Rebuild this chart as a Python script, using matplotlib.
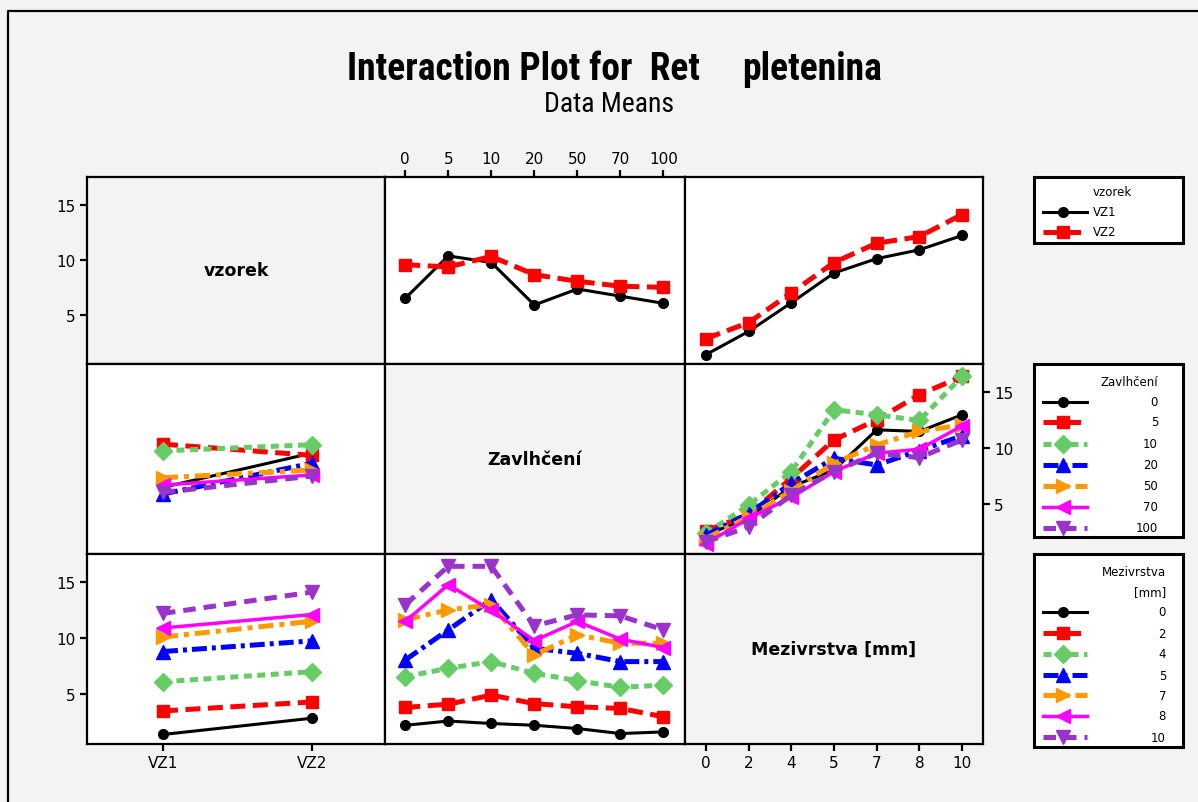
import numpy as np
import matplotlib
matplotlib.use("Agg")
import matplotlib.pyplot as plt
from matplotlib import font_manager
from matplotlib.lines import Line2D

# factor levels
vzorek_levels = ["VZ1", "VZ2"]
zavlh_levels = ["0", "5", "10", "20", "50", "70", "100"]
mezi_levels = ["0", "2", "4", "5", "7", "8", "10"]

# data means, vzorek x Zavlhčení (rows VZ1, VZ2)
vz_zav = [[6.5, 10.35, 9.75, 5.9, 7.35, 6.7, 6.05],
          [9.55, 9.35, 10.3, 8.65, 8.05, 7.6, 7.5]]
# data means, vzorek x Mezivrstva (rows VZ1, VZ2)
vz_mez = [[1.4, 3.5, 6.1, 8.8, 10.1, 10.9, 12.2],
          [2.85, 4.3, 7.0, 9.75, 11.5, 12.1, 14.1]]
# data means, Mezivrstva (rows) x Zavlhčení (cols)
mez_zav = [[2.22, 2.6, 2.38, 2.22, 1.93, 1.48, 1.63],
           [3.81, 4.1, 4.91, 4.15, 3.87, 3.72, 2.98],
           [6.56, 7.3, 7.9, 6.85, 6.2, 5.6, 5.81],
           [8.04, 10.73, 13.42, 9.09, 8.64, 7.9, 7.9],
           [11.63, 12.52, 12.97, 8.49, 10.28, 9.54, 9.54],
           [11.48, 14.76, 12.46, 9.78, 11.48, 9.9, 9.15],
           [12.97, 16.4, 16.4, 11.09, 12.07, 11.98, 10.73]]

vz_zav = np.array(vz_zav)
vz_mez = np.array(vz_mez)
mez_zav = np.array(mez_zav)

BG = "#f3f3f3"
W, H = 1198, 803

# minitab-like line styles per level
styles = [
    dict(color="black", lw=2.2, ls="-", marker="o", ms=7, dashes=None),
    dict(color="#ff0000", lw=3.6, ls="--", marker="s", ms=9, dashes=(3, 1.5)),
    dict(color="#66cc66", lw=3.6, ls="--", marker="D", ms=9, dashes=(1.6, 1.1)),
    dict(color="#0000ff", lw=3.6, ls="--", marker="^", ms=10, dashes=(3, 1, 0.8, 1)),
    dict(color="#ff9900", lw=3.6, ls="--", marker=">", ms=10, dashes=(3, 1.2, 1, 1.2)),
    dict(color="#ff00ff", lw=2.5, ls="-", marker="<", ms=10, dashes=None),
    dict(color="#9933cc", lw=3.6, ls="--", marker="v", ms=10, dashes=(2.5, 1.6)),
]


def draw_line(ax, x, y, st):
    ln, = ax.plot(x, y, color=st["color"], lw=st["lw"], ls=st["ls"],
                  marker=st["marker"], ms=st["ms"], mec=st["color"],
                  mfc=st["color"], solid_capstyle="butt")
    if st["dashes"] is not None:
        ln.set_dashes(st["dashes"])
    return ln


names = {f.name for f in font_manager.fontManager.ttflist}
title_font = "DejaVu Sans"
for cand in ["Liberation Sans Narrow", "DejaVu Sans Condensed", "Roboto Condensed"]:
    if cand in names:
        title_font = cand
        break

fig = plt.figure(figsize=(W / 100, H / 100), dpi=100, facecolor=BG, edgecolor=BG)

# outer frame: only the left and top edges show in the picture
fig.add_artist(Line2D([8 / W, 8 / W, 1.05], [-0.05, 1 - 12 / H, 1 - 12 / H],
                      transform=fig.transFigure, color="black", lw=1.6))

col_x = [87, 385, 685, 983]
row_y = [178, 365, 555, 745]
YLIM = (0.55, 17.5)


def panel(r, c):
    x0, x1 = col_x[c], col_x[c + 1]
    y0, y1 = row_y[r], row_y[r + 1]
    ax = fig.add_axes([x0 / W, 1 - y1 / H, (x1 - x0) / W, (y1 - y0) / H])
    for s in ax.spines.values():
        s.set_linewidth(1.6)
    ax.set_ylim(*YLIM)
    ax.set_xticks([])
    ax.set_yticks([])
    ax.tick_params(direction="out", length=5, width=1.6, labelsize=11, pad=3)
    return ax


xv = np.arange(len(vzorek_levels))
xz = np.arange(len(zavlh_levels))
xm = np.arange(len(mezi_levels))
yt = [5, 10, 15]

axes = {}
for r in range(3):
    for c in range(3):
        axes[(r, c)] = panel(r, c)

# diagonal label panels
diag = {0: "vzorek", 1: "Zavlhčení", 2: "Mezivrstva [mm]"}
for i, lab in diag.items():
    ax = axes[(i, i)]
    ax.set_facecolor(BG)
    ax.text(0.5, 0.5, lab, transform=ax.transAxes, ha="center", va="center",
            fontsize=12.5, fontweight="bold")

# top-left: y ticks
ax = axes[(0, 0)]
ax.set_xlim(-0.51, 1.49)
ax.set_yticks(yt)

# top-middle: vzorek over Zavlhčení
ax = axes[(0, 1)]
for i in range(len(vzorek_levels)):
    draw_line(ax, xz, vz_zav[i], styles[i])
ax.set_xlim(-0.47, 6.5)
ax.xaxis.tick_top()
ax.set_xticks(xz, zavlh_levels)

# top-right: vzorek over Mezivrstva
ax = axes[(0, 2)]
for i in range(len(vzorek_levels)):
    draw_line(ax, xm, vz_mez[i], styles[i])
ax.set_xlim(-0.49, 6.49)

# middle-left: Zavlhčení over vzorek
ax = axes[(1, 0)]
for j in range(len(zavlh_levels)):
    draw_line(ax, xv, vz_zav[:, j], styles[j])
ax.set_xlim(-0.51, 1.49)

# middle-right: Zavlhčení over Mezivrstva
ax = axes[(1, 2)]
for j in range(len(zavlh_levels)):
    draw_line(ax, xm, mez_zav[:, j], styles[j])
ax.set_xlim(-0.49, 6.49)
ax.yaxis.tick_right()
ax.set_yticks(yt)

# bottom-left: Mezivrstva over vzorek
ax = axes[(2, 0)]
for k in range(len(mezi_levels)):
    draw_line(ax, xv, vz_mez[:, k], styles[k])
ax.set_xlim(-0.51, 1.49)
ax.set_yticks(yt)
ax.set_xticks(xv, vzorek_levels)

# bottom-middle: Mezivrstva over Zavlhčení
ax = axes[(2, 1)]
for k in range(len(mezi_levels)):
    draw_line(ax, xz, mez_zav[k], styles[k])
ax.set_xlim(-0.47, 6.5)

# bottom-right: x ticks only
ax = axes[(2, 2)]
ax.set_xlim(-0.49, 6.49)
ax.set_xticks(xm, mezi_levels)

# titles
fig.text(700 / W, 1 - 70 / H, "Interaction Plot for  Ret", ha="right", va="center",
         fontsize=27, fontweight="bold", family=title_font)
fig.text(742 / W, 1 - 70 / H, "pletenina", ha="left", va="center",
         fontsize=27, fontweight="bold", family=title_font)
fig.text(609 / W, 1 - 104 / H, "Data Means", ha="center", va="center", fontsize=20,
         family=title_font)


# legends drawn as small boxes on the right
def legend_box(top, bottom, title_lines, labels, ys, label_x, label_ha, title_x, title_ys):
    ax = fig.add_axes([1034 / W, 1 - bottom / H, (1183 - 1034) / W, (bottom - top) / H])
    ax.set_xlim(1034, 1183)
    ax.set_ylim(bottom, top)
    ax.set_xticks([])
    ax.set_yticks([])
    ax.set_facecolor("white")
    for s in ax.spines.values():
        s.set_linewidth(2.2)
    for t, ty in zip(title_lines, title_ys):
        ax.text(title_x, ty, t, ha=label_ha, va="center", fontsize=8.5)
    for n, (lab, y) in enumerate(zip(labels, ys)):
        st = styles[n]
        ln = Line2D([1043, 1063, 1087], [y, y, y], color=st["color"], lw=st["lw"],
                    ls=st["ls"], marker=st["marker"], ms=st["ms"], markevery=[1],
                    mfc=st["color"], mec=st["color"])
        if st["dashes"] is not None:
            ln.set_dashes(st["dashes"])
        ax.add_line(ln)
        ax.text(label_x, y, lab, ha=label_ha, va="center", fontsize=8.5)


legend_box(178, 244, ["vzorek"], vzorek_levels, [213, 233], 1093, "left", 1093, [193])
legend_box(365, 538, ["Zavlhčení"], zavlh_levels,
           [403, 423, 445, 466, 487, 508, 529], 1158, "right", 1158, [383])
legend_box(555, 748, ["Mezivrstva", "[mm]"], mezi_levels,
           [613, 634, 655, 676, 696, 717, 738], 1166, "right", 1166, [573, 593])

fig.savefig("out.png", dpi=100, facecolor=BG, edgecolor=BG)
